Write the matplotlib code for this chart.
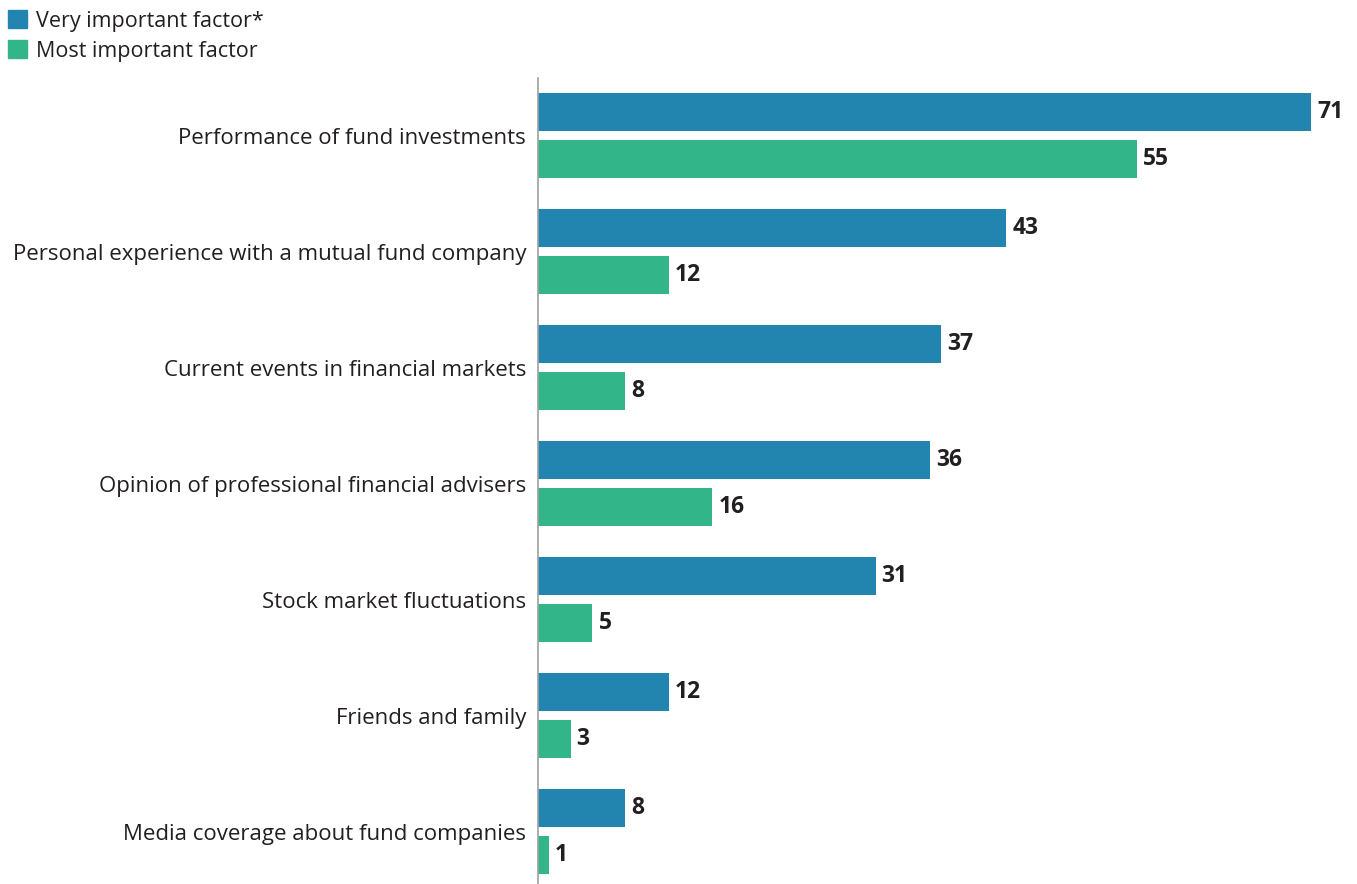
import matplotlib
matplotlib.use("Agg")
import matplotlib.pyplot as plt
from matplotlib.patches import Patch

plt.rcParams['font.family'] = ['Open Sans', 'DejaVu Sans']

# Data
factors = [
    "Performance of fund investments",
    "Personal experience with a mutual fund company",
    "Current events in financial markets",
    "Opinion of professional financial advisers",
    "Stock market fluctuations",
    "Friends and family",
    "Media coverage about fund companies",
]
very_important = [71, 43, 37, 36, 31, 12, 8]
most_important = [55, 12, 8, 16, 5, 3, 1]
series_names = ["Very important factor*", "Most important factor"]

BLUE = "#2185b0"
GREEN = "#33b58a"
TEXT = "#231f20"

W, H = 1357, 884
fig = plt.figure(figsize=(W / 100, H / 100), dpi=100)
ax = fig.add_axes([538 / W, 0, 1 - 538 / W, (H - 78) / H])

pos = list(range(len(factors)))
bh = 0.328
off = 0.203
ax.barh([p - off for p in pos], very_important, height=bh, color=BLUE)
ax.barh([p + off for p in pos], most_important, height=bh, color=GREEN)

# value labels at bar ends
for p, v in zip(pos, very_important):
    ax.text(v + 0.55, p - off, str(v), va="center", ha="left",
            fontsize=16.5, fontweight="bold", color=TEXT)
for p, v in zip(pos, most_important):
    ax.text(v + 0.55, p + off, str(v), va="center", ha="left",
            fontsize=16.5, fontweight="bold", color=TEXT)

ax.set_xlim(0, (W - 538) / 10.89)
ax.set_ylim(6.4526, -0.496)
ax.set_yticks(pos)
ax.set_yticklabels(factors, fontsize=16, color=TEXT)
ax.tick_params(axis="y", length=0, pad=8.5)
ax.set_xticks([])
for s in ["top", "right", "bottom"]:
    ax.spines[s].set_visible(False)
ax.spines["left"].set_color("#a0a0a0")
ax.spines["left"].set_linewidth(1.2)

handles = [Patch(color=BLUE), Patch(color=GREEN)]
fig.legend(handles, series_names, loc="upper left", bbox_to_anchor=(0.0, 0.997),
           frameon=False, fontsize=15.5, handlelength=0.9, handleheight=0.9,
           handletextpad=0.4, labelspacing=0.4, borderaxespad=0.15,
           borderpad=0.2, labelcolor=TEXT)

fig.savefig("out.png", dpi=100)
